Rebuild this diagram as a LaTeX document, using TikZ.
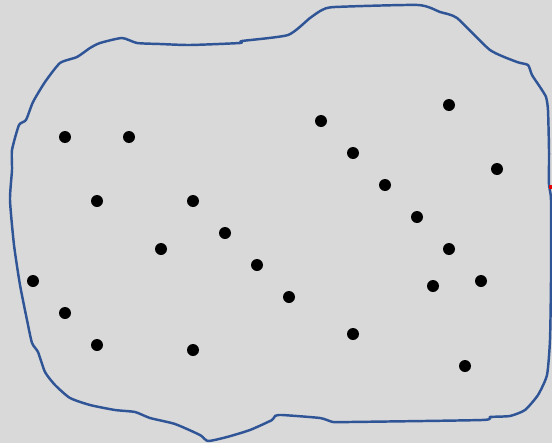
\documentclass[tikz,border=0pt]{standalone}
\usepackage{xcolor}
\usetikzlibrary{positioning}

\definecolor{bgGrey}{RGB}{217,217,217}
\definecolor{rimBlue}{RGB}{47,85,151}
\definecolor{tickRed}{RGB}{230,0,0}

\begin{document}
\begin{tikzpicture}[
  x=0.02cm, y=-0.02cm,
  rim/.style={rimBlue, line width=1.4pt, line join=round},
  dot/.style={black},
]

% ---- background, fixes the margins ----
\fill[bgGrey] (0,0) rectangle (552,443);
\useasboundingbox (0,0) rectangle (552,443);

% ---- the closed outline ----
\draw[rim] plot[smooth cycle, tension=0.35] coordinates {
  (60,63) (77,57) (90,48) (100,43) (122,38) (137,43) (160,44) (190,45)
  (240,43) (242,41) (288,35) (310,18) (322,10) (335,7) (418,5) (440,12)
  (457,18) (490,50) (517,62) (528,65) (532,75) (540,87) (546,97) (548,110)
  (549,150) (549,185) (551,200) (551,280) (550,340) (547,375) (538,395)
  (525,410) (510,416) (490,417) (482,420) (350,422) (333,422) (320,418)
  (282,415) (275,416) (272,420) (250,430) (227,437) (208,441) (200,435)
  (175,424) (150,418) (135,412) (115,410) (90,405) (70,398) (55,385)
  (45,372) (38,352) (32,343) (27,320) (20,285) (14,245) (10,200) (12,170)
  (12,150) (19,125) (26,120) (33,102) (45,82)
};

% ---- small red mark on the right edge ----
\fill[tickRed] (549,185) rectangle (552,189);

% ---- points ----
\foreach \px/\py in {65/137, 129/137, 97/201, 193/201, 225/233, 161/249,
                     257/265, 289/297, 33/281, 65/313, 97/345, 193/350,
                     321/121, 353/153, 385/185, 417/217, 449/105, 497/169,
                     449/249, 481/281, 433/286, 353/334, 465/366}
  \fill[dot] (\px,\py) circle (6);

\end{tikzpicture}
\end{document}
